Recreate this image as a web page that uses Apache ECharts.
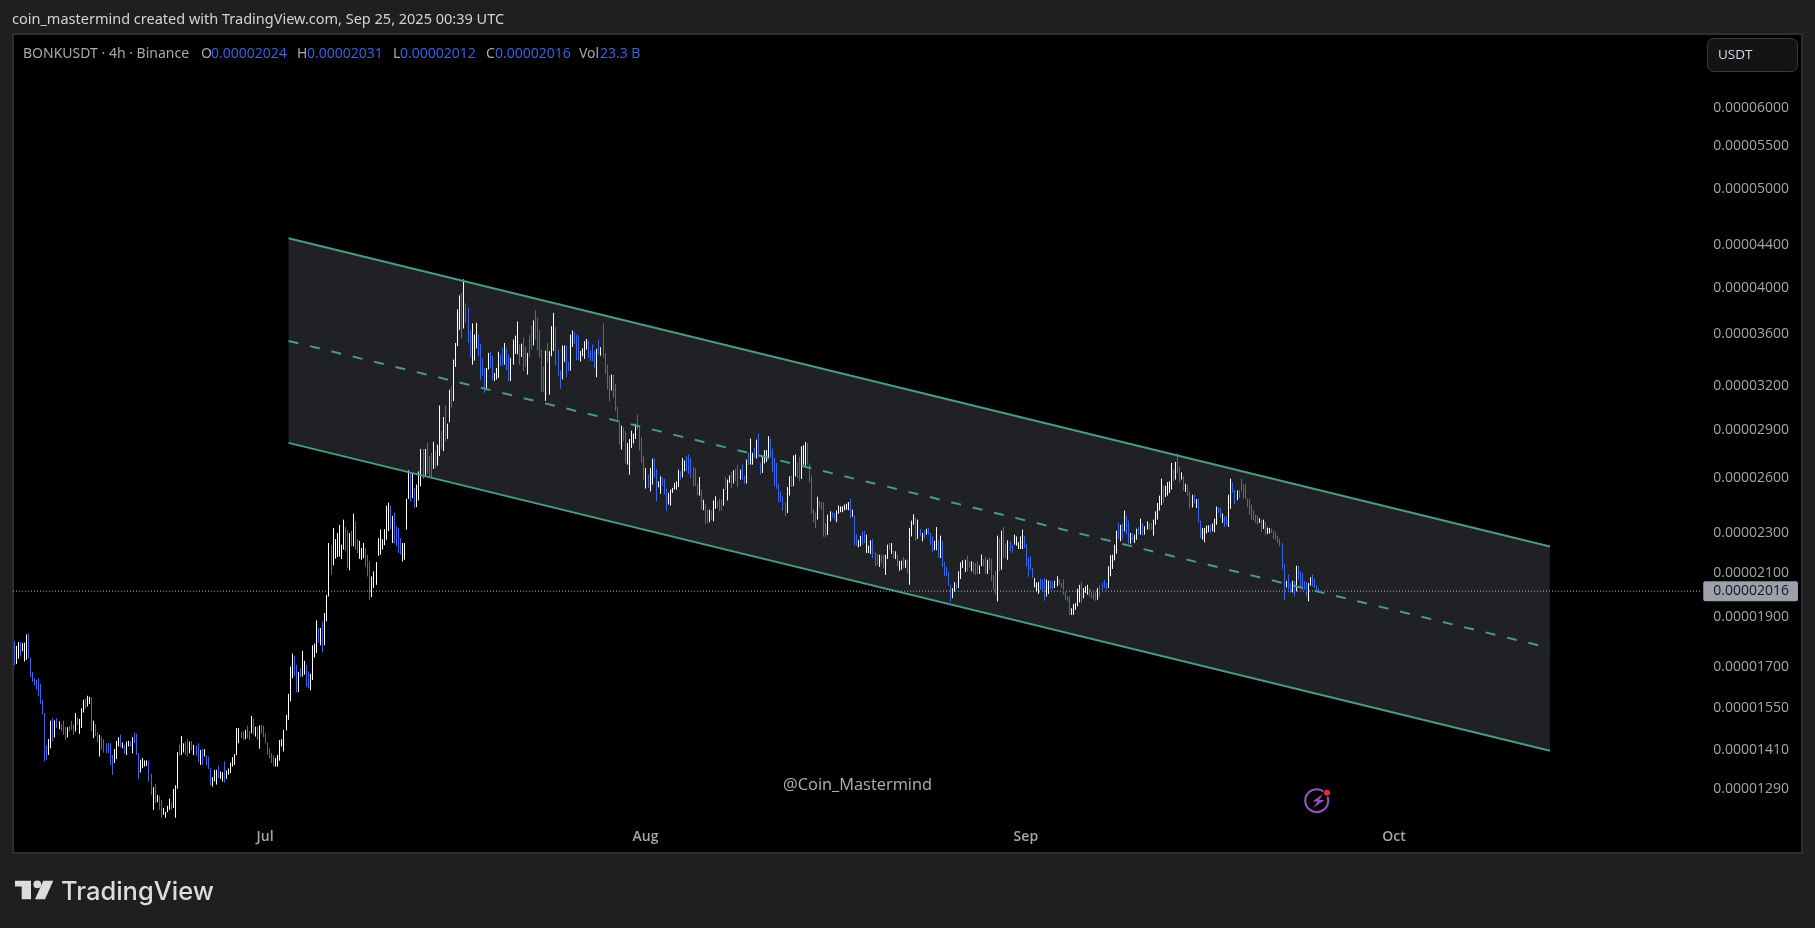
<!DOCTYPE html>
<html><head><meta charset="utf-8">
<style>html,body{margin:0;padding:0;background:#1f1f1f}#c{width:1815px;height:928px}</style>
<script src="https://cdn.jsdelivr.net/npm/echarts@6/dist/echarts.min.js"></script>
</head><body><div id="c"></div><script>
// prices are in units of 0.00000001 USDT
const priceUnit = 1e-8;
const highs = [
1800,1782,1797,1797,1793,1795,1828,1832,1733,1680,1656,1650,1656,1636,1578,1531,1423,1444,1505,1514,
1506,1514,1503,1493,1505,1485,1483,1488,1504,1491,1531,1516,1511,1548,1578,1582,1592,1588,1586,1505,
1494,1466,1458,1452,1443,1430,1431,1430,1393,1412,1438,1450,1458,1433,1425,1436,1438,1436,1450,1465,
1461,1399,1378,1383,1376,1376,1375,1335,1295,1304,1273,1270,1259,1236,1225,1242,1262,1252,1290,1301,
1402,1425,1454,1430,1436,1444,1436,1438,1425,1423,1430,1409,1412,1411,1391,1388,1352,1325,1347,1347,
1359,1342,1340,1373,1345,1351,1369,1386,1396,1480,1480,1469,1469,1474,1488,1469,1521,1511,1485,1485,
1489,1491,1489,1463,1433,1414,1399,1391,1383,1393,1441,1443,1474,1525,1599,1701,1751,1743,1707,1680,
1694,1762,1723,1707,1682,1673,1784,1791,1887,1855,1855,1883,1919,1999,2247,2237,2325,2267,2299,2340,
2239,2369,2330,2313,2299,2311,2401,2360,2267,2259,2222,2247,2222,2189,2156,2084,2108,2153,2272,2316,
2267,2319,2445,2462,2445,2390,2406,2333,2325,2272,2247,2247,2483,2648,2636,2632,2545,2564,2642,2779,
2779,2779,2820,2734,2754,2824,2769,2806,3065,2896,2987,3065,2942,3177,3201,3400,3530,3807,3930,3952,
4074,3859,3822,3631,3689,3597,3694,3597,3524,3408,3336,3336,3451,3461,3430,3299,3336,3461,3438,3491,
3530,3494,3438,3413,3557,3589,3705,3518,3524,3570,3499,3451,3592,3672,3714,3799,3736,3634,3478,3346,
3470,3530,3465,3666,3778,3661,3478,3316,3509,3509,3509,3382,3597,3631,3620,3597,3589,3465,3486,3543,
3562,3549,3470,3518,3465,3483,3557,3496,3689,3451,3361,3279,3286,3286,3219,3058,2958,2929,2918,2892,
2817,2842,2896,2876,2942,3002,2918,2855,2738,2662,2622,2662,2719,2719,2656,2583,2612,2606,2599,2541,
2516,2535,2545,2574,2583,2652,2642,2723,2707,2733,2744,2723,2668,2662,2570,2608,2535,2478,2456,2423,
2423,2418,2474,2497,2469,2484,2478,2539,2608,2593,2617,2638,2648,2656,2682,2652,2684,2617,2713,2755,
2845,2755,2787,2838,2876,2693,2730,2771,2771,2860,2845,2781,2723,2693,2570,2525,2497,2464,2550,2612,
2617,2738,2744,2699,2730,2796,2802,2823,2817,2689,2617,2427,2409,2495,2472,2464,2464,2352,2396,2414,
2409,2405,2418,2445,2441,2441,2451,2456,2465,2484,2423,2391,2292,2264,2284,2307,2311,2290,2234,2261,
2267,2200,2192,2189,2189,2189,2189,2239,2247,2247,2209,2206,2189,2159,2159,2177,2164,2164,2325,2364,
2398,2383,2369,2320,2299,2313,2321,2325,2299,2281,2259,2330,2261,2285,2256,2153,2129,2107,2045,2030,
2058,2053,2108,2151,2161,2164,2184,2156,2156,2153,2148,2156,2136,2189,2167,2177,2164,2177,2169,2091,
2111,2285,2272,2311,2330,2244,2261,2256,2239,2290,2281,2251,2281,2316,2285,2244,2177,2180,2125,2077,
2056,2058,2074,2069,2077,2069,2064,2066,2061,2064,2085,2072,2053,2069,2014,1992,1992,1940,1959,1962,
2027,2045,2058,2030,2038,2045,2027,2014,2010,2014,2030,2043,2056,2069,2053,2132,2186,2189,2239,2311,
2351,2342,2348,2418,2391,2364,2299,2299,2290,2321,2330,2374,2351,2334,2360,2351,2351,2369,2414,2460,
2501,2599,2558,2558,2579,2583,2692,2652,2699,2750,2668,2636,2613,2569,2564,2525,2506,2506,2482,2482,
2364,2325,2325,2337,2339,2342,2348,2374,2440,2435,2432,2402,2387,2387,2506,2599,2577,2535,2531,2535,
2599,2564,2569,2484,2484,2451,2418,2396,2392,2378,2369,2369,2357,2327,2325,2321,2311,2304,2285,2269,
2247,2144,2064,2093,2053,2064,2064,2135,2135,2108,2100,2061,2058,2053,2080,2093,2074,2044,2031];
const lows = [
1705,1710,1731,1740,1760,1720,1727,1733,1660,1643,1630,1614,1590,1563,1527,1373,1378,1393,1414,1436,
1449,1480,1477,1471,1458,1441,1449,1469,1474,1458,1469,1491,1461,1480,1533,1546,1554,1563,1469,1447,
1454,1433,1388,1409,1400,1398,1399,1362,1332,1368,1380,1420,1417,1414,1397,1393,1420,1420,1398,1430,
1393,1320,1339,1352,1357,1359,1312,1273,1231,1250,1252,1231,1209,1217,1209,1224,1231,1231,1236,1209,
1291,1390,1393,1401,1393,1388,1398,1407,1393,1390,1371,1362,1362,1388,1362,1349,1300,1297,1312,1303,
1322,1320,1312,1309,1320,1332,1337,1357,1362,1393,1430,1447,1441,1443,1447,1441,1463,1458,1452,1441,
1413,1461,1450,1430,1393,1383,1368,1357,1357,1357,1375,1420,1404,1472,1508,1572,1656,1663,1604,1605,
1660,1663,1670,1624,1620,1612,1650,1736,1753,1794,1784,1755,1784,1883,1992,2092,2137,2169,2177,2180,
2167,2214,2206,2124,2113,2231,2231,2214,2197,2169,2164,2172,2132,2084,1977,1989,2030,2045,2183,2189,
2214,2236,2264,2308,2316,2247,2247,2231,2197,2189,2156,2164,2316,2482,2468,2487,2432,2437,2474,2554,
2597,2617,2632,2612,2603,2656,2662,2676,2734,2779,2765,2827,2842,2951,3051,3095,3344,3504,3634,3565,
3647,3694,3530,3418,3361,3392,3486,3425,3245,3274,3153,3172,3324,3336,3243,3238,3250,3262,3349,3354,
3361,3319,3238,3238,3361,3443,3440,3361,3420,3311,3342,3286,3420,3478,3510,3557,3470,3415,3158,3158,
3097,3377,3141,3425,3465,3354,3279,3184,3250,3382,3267,3311,3316,3499,3524,3395,3395,3385,3425,3405,
3478,3413,3388,3388,3332,3267,3438,3430,3415,3291,3177,3092,3170,3118,3026,2969,2806,2775,2827,2689,
2682,2622,2785,2813,2842,2903,2769,2693,2593,2541,2545,2525,2564,2603,2469,2548,2512,2558,2506,2414,
2451,2445,2516,2535,2535,2550,2593,2606,2642,2642,2626,2603,2554,2554,2503,2501,2423,2420,2344,2352,
2355,2369,2360,2428,2432,2414,2418,2445,2535,2474,2574,2545,2570,2583,2550,2593,2593,2570,2570,2682,
2682,2682,2723,2719,2730,2622,2632,2689,2699,2719,2723,2636,2554,2539,2464,2465,2418,2387,2405,2501,
2550,2554,2612,2603,2583,2597,2682,2676,2682,2578,2401,2355,2325,2369,2432,2420,2280,2276,2288,2360,
2380,2369,2355,2401,2409,2409,2420,2423,2420,2374,2384,2234,2234,2226,2231,2239,2247,2197,2197,2192,
2172,2133,2138,2129,2148,2125,2091,2167,2214,2192,2172,2167,2133,2111,2116,2125,2125,2099,2045,2281,
2342,2259,2267,2281,2256,2272,2290,2290,2239,2200,2211,2211,2175,2172,2129,2085,2085,2040,1968,1984,
2014,2025,2030,2072,2125,2105,2108,2125,2108,2096,2091,2096,2096,2133,2133,2096,2096,2116,2061,2022,
2000,1970,2108,2116,2172,2172,2164,2206,2197,2239,2234,2217,2217,2217,2222,2130,2081,2116,2077,2033,
2014,2004,2022,2022,1973,1992,2003,2025,2025,2030,2038,2045,2030,2000,1977,1970,1911,1911,1911,1933,
1948,1965,1962,1984,2008,2000,1992,1984,1977,1973,1977,1992,2022,2030,2022,2030,2085,2119,2161,2194,
2268,2256,2264,2307,2290,2244,2244,2256,2247,2264,2290,2290,2287,2290,2316,2316,2316,2285,2342,2369,
2418,2448,2460,2493,2501,2516,2535,2583,2593,2632,2577,2593,2529,2522,2497,2428,2435,2456,2432,2355,
2273,2264,2251,2296,2304,2296,2307,2302,2342,2406,2378,2351,2330,2337,2330,2428,2516,2451,2475,2487,
2525,2487,2482,2437,2396,2369,2365,2351,2342,2351,2302,2320,2287,2294,2296,2299,2269,2264,2247,2231,
2120,1977,2033,2022,2010,2010,1992,2015,2069,2030,2022,2022,1992,1970,2041,2036,2030,2015,2012];
// 1 = rising bar (white), 0 = falling bar (blue)
const rising = [
0,1,1,0,1,1,1,0,0,0,0,0,0,0,0,0,0,1,1,0,
1,0,1,0,0,0,1,0,0,0,1,0,1,1,1,0,1,1,0,1,
0,0,1,0,0,0,0,0,0,1,1,1,0,1,0,1,1,0,1,0,
0,0,1,1,1,1,0,0,1,0,1,0,0,1,1,1,1,0,1,1,
1,0,1,1,0,0,1,0,1,0,0,1,0,1,0,0,0,1,1,1,
0,1,1,0,1,1,1,1,1,1,1,0,0,1,0,0,1,0,1,0,
1,0,0,0,0,0,0,0,1,1,1,1,1,1,1,1,1,0,0,1,
0,1,1,0,0,1,1,1,1,0,1,0,1,1,1,0,1,1,1,1,
1,1,0,0,1,0,1,0,0,1,1,1,0,0,0,1,1,1,1,1,
1,1,1,1,0,1,0,0,0,0,1,1,1,1,0,1,0,1,1,1,
0,1,0,0,0,1,0,1,1,0,1,0,1,1,0,1,1,1,1,0,
1,0,0,0,1,1,1,0,0,0,0,1,1,0,0,1,1,1,0,0,
1,0,0,1,1,1,1,0,1,0,0,1,0,0,1,0,0,0,0,0,
1,0,1,1,1,0,0,0,1,1,0,0,1,1,0,0,0,1,1,1,
1,0,0,0,0,1,0,1,0,0,0,0,1,0,0,0,0,1,0,0,
1,1,1,1,1,0,0,0,0,1,0,1,1,0,0,1,1,0,0,0,
1,1,1,1,1,1,0,1,1,0,0,0,0,0,0,1,0,1,0,0,
1,0,1,1,0,0,0,1,0,1,1,0,1,0,0,1,0,0,1,0,
1,1,0,1,0,0,1,1,1,1,0,0,0,0,0,0,0,0,1,1,
0,1,1,0,0,1,1,1,0,0,0,0,0,1,0,0,0,0,1,1,
0,0,1,1,1,1,1,1,1,0,1,0,0,1,1,0,0,1,1,1,
0,0,0,1,0,0,1,1,0,1,0,1,0,1,1,0,1,0,1,1,
1,0,1,0,1,0,1,0,0,0,1,1,0,1,0,0,0,0,0,1,
1,0,1,1,1,1,0,0,1,0,0,0,1,1,0,0,1,0,0,0,
0,1,0,1,0,0,1,0,0,1,1,1,1,1,0,0,0,0,0,1,
1,1,0,0,0,1,1,0,0,1,1,0,0,0,0,0,0,1,1,1,
1,1,0,1,1,1,0,0,0,0,1,0,0,0,0,1,1,1,1,1,
0,1,0,1,0,0,1,0,1,1,0,1,0,1,1,0,0,1,1,1,
1,1,0,1,1,1,1,0,1,0,0,1,0,1,0,0,1,0,1,0,
0,1,1,1,1,0,1,1,1,0,0,1,0,0,1,1,0,0,1,0,
0,0,0,0,0,0,0,0,0,1,0,1,0,1,1,0,0,0,0,0,
0,0,1,0,0,1,0,1,0,0,0,0,0,1,1,0,0,0,0];
const firstBarTime = Date.UTC(2025,5,10,12);
const barStepMs = 4*3600*1000;
const priceTicks = [6000,5500,5000,4400,4000,3600,3200,2900,2600,2300,2100,1900,1700,1550,1410,1290];
const monthTicks = [Date.UTC(2025,6,1),Date.UTC(2025,7,1),Date.UTC(2025,8,1),Date.UTC(2025,9,1)];
const monthNames = {6:'Jul',7:'Aug',8:'Sep',9:'Oct'};
const channelTimes = [Date.UTC(2025,6,2,22),Date.UTC(2025,9,13,17)];
const channelUpper = [4470,2230];
const channelMiddle = [3546,1773];
const channelLower = [2817,1406];
const lastPrice = 2016;
const lastPriceLineEnd = Date.UTC(2025,9,25,23);
const axisMinTime = Date.UTC(2025,5,10,11), axisMaxTime = Date.UTC(2025,10,3,6);
const axisMinPrice = 1116.5, axisMaxPrice = 7088;

const bars = highs.map((h,i)=>[firstBarTime+i*barStepMs,h,lows[i],rising[i]]);
const TEAL='#4a9a8a', BLUE='#3866e6', GREY='#a3a6ad', LABEL='#a6a9b1';
const pts = a => channelTimes.map((t,i)=>[t,a[i]]);
const lineSeries = (a,dash)=>({type:'line',data:pts(a),showSymbol:false,silent:true,z:5,
  lineStyle:{color:TEAL,width:2,type:dash?[10,12]:'solid'},animation:false});

const sans='"Noto Sans",sans-serif', open='"Open Sans",sans-serif';
const headerItems=[
 [12,20,'coin_mastermind created with TradingView.com, Sep 25, 2025 00:39 UTC','#d1d4dc'],
 [23,54,'BONKUSDT · 4h · Binance',LABEL],
 [201,54,'O',LABEL],[211,54,'0.00002024',BLUE],
 [297,54,'H',LABEL],[307,54,'0.00002031',BLUE],
 [393,54,'L',LABEL],[400,54,'0.00002012',BLUE],
 [486,54,'C',LABEL],[495,54,'0.00002016',BLUE],
 [579,54,'Vol',LABEL],[600,54,'23.3 B',BLUE]];
const graphicEls = headerItems.map((h,i)=>({type:'text',x:h[0],y:h[1],z:20,style:{text:h[2],fill:h[3],
  font:(i===0?'14.5px ':'14px ')+(h[3]===BLUE?open:sans),textVerticalAlign:'middle'}}));
graphicEls.push(
 {type:'rect',z:20,shape:{x:1707.5,y:38.5,width:90,height:33,r:6},style:{fill:'#121416',stroke:'#363a40',lineWidth:1}},
 {type:'text',x:1718,y:55,z:21,style:{text:'USDT',fill:'#d8dade',font:'13.5px '+open,textVerticalAlign:'middle'}},
 {type:'text',x:783,y:785,z:20,style:{text:'@Coin_Mastermind',fill:'#b0b0b0',font:'16.4px '+open,textVerticalAlign:'middle'}},
 {type:'circle',z:20,shape:{cx:1316.7,cy:800.7,r:11.5},style:{fill:'none',stroke:'#9a4fbe',lineWidth:2}},
 {type:'polygon',z:20,shape:{points:[[1323,794],[1312.5,801.5],[1317.5,801.5],[1313,808],[1324.5,800],[1319,800]]},style:{fill:'#9a4fbe'}},
 {type:'circle',z:21,shape:{cx:1327,cy:792.7,r:3.6},style:{fill:'#e0303a',stroke:'#000',lineWidth:1}},
 {type:'polygon',z:20,shape:{points:[[15,880.7],[31,880.7],[31,899.3],[21.7,899.3],[21.7,886.5],[15,886.5]]},style:{fill:'#dcdcdc'}},
 {type:'circle',z:20,shape:{cx:37.3,cy:884.3,r:3.9},style:{fill:'#dcdcdc'}},
 {type:'polygon',z:20,shape:{points:[[43.3,880.7],[53.3,880.7],[45,899.3],[35,899.3]]},style:{fill:'#dcdcdc'}},
 {type:'text',x:61,y:892,z:20,style:{text:'TradingView',fill:'#dcdcdc',font:'500 25.5px Inter,sans-serif',textVerticalAlign:'middle'}}
);

const chart = echarts.init(document.getElementById('c'),null,{renderer:'canvas'});
chart.setOption({
 animation:false,backgroundColor:'#1f1f1f',
 grid:{left:13,right:13,top:34,bottom:75,show:true,backgroundColor:'#000',borderColor:'#2e2e2e',borderWidth:2},
 xAxis:{type:'value',min:axisMinTime,max:axisMaxTime,splitLine:{show:false},axisLine:{show:false},axisTick:{show:false},
  axisLabel:{inside:true,margin:9,hideOverlap:false,customValues:monthTicks,color:GREY,fontFamily:open,fontSize:14,fontWeight:600,
   formatter:v=>monthNames[new Date(v).getUTCMonth()]}},
 yAxis:{type:'log',position:'right',min:axisMinPrice,max:axisMaxPrice,splitLine:{show:false},axisLine:{show:false},axisTick:{show:false},
  axisLabel:{inside:true,margin:13,customValues:priceTicks,color:GREY,fontFamily:open,fontSize:14,padding:[5,0,0,0],
   formatter:v=>(v*priceUnit).toFixed(8)}},
 graphic:{elements:graphicEls},
 series:[
  {type:'custom',z:1,silent:true,clip:true,
   data:[[channelTimes[0],channelUpper[0],channelLower[0],channelTimes[1],channelUpper[1],channelLower[1]]],
   encode:{x:0,y:1},
   renderItem:(p,api)=>({type:'polygon',shape:{points:[
     api.coord([api.value(0),api.value(1)]),api.coord([api.value(3),api.value(4)]),
     api.coord([api.value(3),api.value(5)]),api.coord([api.value(0),api.value(2)])]},
     style:{fill:'#1f2125'}})},
  {type:'line',z:2,silent:true,showSymbol:false,data:[[axisMinTime,lastPrice],[lastPriceLineEnd,lastPrice]],
   lineStyle:{color:'#b4b7bc',width:1,type:[1,2]},
   endLabel:{show:true,formatter:()=>(lastPrice*priceUnit).toFixed(8),backgroundColor:'#9ba0a9',color:'#131722',
     fontFamily:open,fontSize:14,padding:[3,9,3,10],borderRadius:2,distance:3}},
  {type:'custom',z:3,silent:true,clip:true,data:bars,encode:{x:0,y:[1,2]},
   renderItem:(p,api)=>{
     const a=api.coord([api.value(0),api.value(1)]),b=api.coord([api.value(0),api.value(2)]);
     const x=Math.round(a[0])+0.5;
     return {type:'line',shape:{x1:x,y1:a[1],x2:x,y2:b[1]},style:{stroke:api.value(3)?'#ffffff':BLUE,lineWidth:1}};
   }},
  lineSeries(channelUpper,false),lineSeries(channelMiddle,true),lineSeries(channelLower,false)
 ]
});
</script></body></html>
